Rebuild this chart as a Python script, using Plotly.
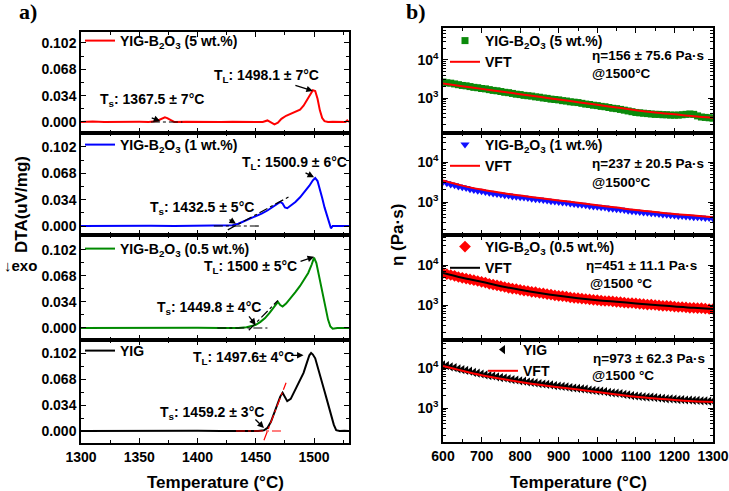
import plotly.graph_objects as go

# ---------------- DATA ----------------
# DTA curves (Temperature in °C, DTA in uV/mg)
T_5 = [1300, 1310, 1320, 1330, 1340, 1350, 1358, 1362, 1366, 1369, 1372, 1374, 1377, 1380, 1390, 1400, 1410,
       1420, 1430, 1440, 1450, 1456, 1460, 1463, 1466, 1469, 1472, 1476, 1480, 1484, 1488, 1491, 1494, 1497,
       1499, 1501, 1503, 1505, 1507, 1509, 1512, 1516, 1520, 1524, 1527, 1528.5, 1530]
D_5 = [0.000, 0.0005, 0.000, 0.0003, 0.000, 0.0002, 0.000, 0.0005, 0.002, 0.004, 0.006, 0.005, 0.002, 0.000,
       0.0003, 0.000, 0.0002, 0.000, 0.0003, 0.000, 0.0002, 0.000, 0.002, 0.000, -0.003, -0.001, 0.004, 0.008,
       0.011, 0.013, 0.016, 0.021, 0.028, 0.036, 0.041, 0.040, 0.030, 0.015, 0.005, 0.001, 0.000, 0.0002, 0.000,
       0.0003, 0.000, 0.002, 0.000]

T_1 = [1300, 1320, 1340, 1360, 1380, 1400, 1415, 1425, 1430, 1435, 1440, 1445, 1450, 1455, 1460, 1465, 1469,
       1471, 1473, 1475, 1477, 1480, 1484, 1488, 1492, 1496, 1499, 1501, 1503, 1505, 1507, 1509, 1511, 1513,
       1514.5, 1516, 1520, 1525, 1530]
D_1 = [0.000, 0.0003, 0.000, 0.0003, 0.000, 0.0002, 0.000, 0.000, 0.001, 0.003, 0.006, 0.009, 0.012, 0.016,
       0.020, 0.025, 0.029, 0.031, 0.029, 0.024, 0.023, 0.026, 0.031, 0.037, 0.044, 0.052, 0.059, 0.062, 0.058,
       0.048, 0.036, 0.024, 0.013, 0.003, -0.003, 0.000, 0.000, 0.0002, 0.000]

T_05 = [1300, 1320, 1340, 1360, 1380, 1400, 1420, 1435, 1442, 1446, 1450, 1454, 1458, 1462, 1465, 1467, 1469,
        1471, 1473, 1476, 1480, 1484, 1488, 1492, 1495, 1498, 1500, 1502, 1504, 1506, 1508, 1510, 1512, 1514,
        1516, 1520, 1525, 1530]
D_05 = [0.000, 0.0002, 0.000, 0.0003, 0.000, 0.0002, 0.000, 0.000, 0.001, 0.002, 0.004, 0.008, 0.013, 0.020,
        0.026, 0.031, 0.034, 0.030, 0.028, 0.032, 0.039, 0.047, 0.055, 0.064, 0.072, 0.083, 0.092, 0.085, 0.070,
        0.054, 0.040, 0.025, 0.011, 0.002, -0.001, 0.000, 0.0003, 0.000]

T_0 = [1300, 1320, 1340, 1360, 1380, 1400, 1420, 1440, 1452, 1457, 1460, 1463, 1466, 1469, 1471, 1473, 1475,
       1477, 1480, 1484, 1488, 1491, 1494, 1496, 1497.5, 1499, 1501, 1503, 1505, 1507, 1509, 1511, 1513, 1515,
       1517, 1519, 1522, 1526, 1530]
D_0 = [0.000, 0.0002, 0.000, 0.0003, 0.000, 0.0002, 0.000, 0.000, 0.000, 0.001, 0.004, 0.012, 0.024, 0.037,
       0.045, 0.050, 0.045, 0.039, 0.042, 0.054, 0.066, 0.076, 0.090, 0.099, 0.102, 0.100, 0.095, 0.085, 0.073,
       0.062, 0.052, 0.041, 0.030, 0.019, 0.008, 0.001, 0.000, 0.0002, 0.000]

# construction (tangent / baseline) lines
BASE_5_X, BASE_5_Y = [1360, 1387], [0.0, 0.0]
BASE_1_X, BASE_1_Y = [1414, 1454], [0.0, 0.0]
TAN_1_X, TAN_1_Y = [1426, 1480], [-0.005, 0.039]
BASE_05_X, BASE_05_Y = [1417, 1460], [0.0, 0.0]
TAN_05_X, TAN_05_Y = [1444, 1469], [-0.003, 0.036]
BASE_0_X, BASE_0_Y = [1433, 1474], [0.0, 0.0]
TAN_0_X, TAN_0_Y = [1457, 1476], [-0.012, 0.063]

# Viscosity (Temperature in °C, log10(eta / Pa·s))
T_VISC = list(range(600, 1301, 10))
LOG_ETA_5 = [3.42, 3.40, 3.39, 3.37, 3.35, 3.33, 3.32, 3.30, 3.28, 3.27, 3.25, 3.24, 3.22, 3.20, 3.19, 3.17,
             3.15, 3.14, 3.12, 3.10, 3.09, 3.07, 3.06, 3.05, 3.03, 3.02, 3.00, 2.99, 2.97, 2.96, 2.95, 2.93,
             2.92, 2.90, 2.89, 2.88, 2.86, 2.84, 2.83, 2.81, 2.80, 2.78, 2.77, 2.75, 2.73, 2.72, 2.70, 2.68,
             2.66, 2.64, 2.62, 2.61, 2.60, 2.59, 2.58, 2.57, 2.57, 2.56, 2.56, 2.55, 2.55, 2.55, 2.56, 2.57,
             2.58, 2.57, 2.53, 2.50, 2.49, 2.48, 2.47]
LOG_ETA_1 = [3.50, 3.47, 3.44, 3.42, 3.39, 3.37, 3.35, 3.32, 3.30, 3.28, 3.27, 3.25, 3.23, 3.21, 3.20, 3.19,
             3.17, 3.16, 3.14, 3.13, 3.12, 3.11, 3.10, 3.08, 3.07, 3.06, 3.05, 3.04, 3.02, 3.01, 3.00, 2.99,
             2.98, 2.96, 2.95, 2.94, 2.93, 2.92, 2.90, 2.89, 2.88, 2.87, 2.86, 2.84, 2.83, 2.82, 2.81, 2.80,
             2.78, 2.77, 2.76, 2.75, 2.74, 2.73, 2.72, 2.71, 2.70, 2.69, 2.68, 2.67, 2.66, 2.65, 2.65, 2.64,
             2.63, 2.62, 2.62, 2.61, 2.60, 2.60, 2.59]
LOG_ETA_05 = [3.80, 3.77, 3.75, 3.73, 3.70, 3.68, 3.66, 3.64, 3.62, 3.60, 3.58, 3.56, 3.53, 3.51, 3.49, 3.47,
              3.45, 3.43, 3.41, 3.40, 3.38, 3.36, 3.35, 3.33, 3.32, 3.30, 3.29, 3.27, 3.26, 3.24, 3.23, 3.22,
              3.21, 3.19, 3.18, 3.17, 3.16, 3.15, 3.14, 3.13, 3.12, 3.11, 3.10, 3.10, 3.09, 3.08, 3.07, 3.06,
              3.05, 3.05, 3.04, 3.03, 3.02, 3.01, 3.01, 3.00, 2.99, 2.98, 2.98, 2.97, 2.96, 2.95, 2.95, 2.94,
              2.93, 2.93, 2.92, 2.92, 2.91, 2.90, 2.90]
LOG_ETA_0 = [4.08, 4.06, 4.03, 4.01, 3.98, 3.96, 3.94, 3.92, 3.89, 3.87, 3.85, 3.83, 3.81, 3.80, 3.78, 3.76,
             3.75, 3.73, 3.71, 3.70, 3.68, 3.67, 3.65, 3.64, 3.63, 3.61, 3.60, 3.59, 3.58, 3.56, 3.55, 3.54,
             3.53, 3.51, 3.50, 3.49, 3.48, 3.47, 3.45, 3.44, 3.43, 3.42, 3.41, 3.39, 3.38, 3.37, 3.36, 3.34,
             3.33, 3.31, 3.30, 3.29, 3.28, 3.27, 3.27, 3.26, 3.25, 3.24, 3.23, 3.23, 3.22, 3.21, 3.21, 3.20,
             3.20, 3.19, 3.19, 3.18, 3.18, 3.17, 3.17]

# VFT fits
T_VFT = [600, 650, 700, 750, 800, 850, 900, 950, 1000, 1050, 1100, 1150, 1200, 1250, 1300]
LOG_VFT_5 = [3.38, 3.31, 3.24, 3.17, 3.10, 3.03, 2.96, 2.89, 2.82, 2.75, 2.68, 2.62, 2.57, 2.52, 2.48]
LOG_VFT_1 = [3.54, 3.41, 3.31, 3.23, 3.16, 3.10, 3.04, 2.98, 2.92, 2.86, 2.80, 2.75, 2.70, 2.66, 2.62]
LOG_VFT_05 = [3.80, 3.68, 3.58, 3.47, 3.38, 3.30, 3.23, 3.17, 3.12, 3.08, 3.04, 3.00, 2.96, 2.93, 2.90]
LOG_VFT_0 = [4.05, 3.93, 3.82, 3.73, 3.65, 3.58, 3.52, 3.46, 3.40, 3.34, 3.28, 3.24, 3.20, 3.17, 3.15]

DTA_TICKS = [0.0, 0.034, 0.068, 0.102]
DTA_TICKTEXT = ["0.000", "0.034", "0.068", "0.102"]

# ---------------- FIGURE ----------------
W, H = 729, 491
FONT = "Liberation Sans, Arial, sans-serif"


def px(x):
    return x / W


def py(y):
    return 1 - y / H


def eta(logs):
    return [10 ** v for v in logs]


fig = go.Figure()

left_names = ["YIG-B<sub>2</sub>O<sub>3</sub> (5 wt.%)", "YIG-B<sub>2</sub>O<sub>3</sub> (1 wt.%)",
              "YIG-B<sub>2</sub>O<sub>3</sub> (0.5 wt.%)", "YIG"]
left_data = [(T_5, D_5, "#ff0000"), (T_1, D_1, "#0000ff"), (T_05, D_05, "#008a00"), (T_0, D_0, "#000000")]
for i, (tx, dy, col) in enumerate(left_data):
    n = i + 1
    fig.add_trace(go.Scatter(x=tx, y=dy, mode="lines", line=dict(color=col, width=2),
                             name=left_names[i], xaxis=f"x{n}", yaxis=f"y{n}",
                             legend="legend" if n == 1 else f"legend{n}"))

constr = [
    (1, BASE_5_X, BASE_5_Y, "black"),
    (2, BASE_1_X, BASE_1_Y, "black"), (2, TAN_1_X, TAN_1_Y, "black"),
    (3, BASE_05_X, BASE_05_Y, "black"), (3, TAN_05_X, TAN_05_Y, "black"),
    (4, BASE_0_X, BASE_0_Y, "#ff0000"), (4, TAN_0_X, TAN_0_Y, "#ff0000"),
]
for n, cx, cy, col in constr:
    fig.add_trace(go.Scatter(x=cx, y=cy, mode="lines", line=dict(color=col, width=1.2, dash="dashdot"),
                             showlegend=False, xaxis=f"x{n}", yaxis=f"y{n}"))

right_sets = [
    (LOG_ETA_5, LOG_VFT_5, "square", 7, "#0b8a0b", "#ff0000", left_names[0]),
    (LOG_ETA_1, LOG_VFT_1, "triangle-down", 8, "#1010ff", "#ff0000", left_names[1]),
    (LOG_ETA_05, LOG_VFT_05, "diamond", 9, "#ff0000", "#000000", left_names[2]),
    (LOG_ETA_0, LOG_VFT_0, "triangle-left", 8, "#000000", "#ff0000", "YIG"),
]
for i, (le, lv, sym, sz, mcol, lcol, nm) in enumerate(right_sets):
    n = i + 5
    fig.add_trace(go.Scatter(x=T_VISC, y=eta(le), mode="markers",
                             marker=dict(symbol=sym, size=sz, color=mcol, line=dict(width=0)),
                             name=nm, xaxis=f"x{n}", yaxis=f"y{n}", legend=f"legend{n}"))
    fig.add_trace(go.Scatter(x=T_VFT, y=eta(lv), mode="lines", line=dict(color=lcol, width=2, shape="spline"),
                             name="VFT", xaxis=f"x{n}", yaxis=f"y{n}", legend=f"legend{n}"))

tickfont = dict(family=FONT, size=14, color="black", weight="bold")
common = dict(showline=True, linecolor="black", linewidth=1.5, mirror="allticks", ticks="inside",
              ticklen=5, tickwidth=1.3, tickcolor="black", showgrid=False, zeroline=False, tickfont=tickfont,
              automargin=False)

left_edges = [(32, 133), (133, 235), (235, 340), (340, 443)]
right_edges = [(28, 133), (133, 235), (235, 340), (340, 442)]
left_yr = [[-0.0142, 0.116], [-0.0116, 0.120], [-0.0157, 0.1216], [-0.0157, 0.119]]
right_yr = [[2.08, 4.84], [2.175, 4.725], [2.125, 4.75], [2.15, 4.70]]

layout = dict(width=W, height=H, margin=dict(l=0, r=0, t=0, b=0, pad=0, autoexpand=False),
              paper_bgcolor="white", plot_bgcolor="white", font=dict(family=FONT, color="black"))

minor_log = [m * 10 ** e for e in (2, 3, 4) for m in range(2, 10)]

for i in range(4):
    n = i + 1
    top, bot = left_edges[i]
    layout[f"xaxis{n}"] = dict(common, domain=[px(81), px(349)], anchor=f"y{n}", range=[1300, 1530],
                               tick0=1300, dtick=50, showticklabels=(n == 4),
                               minor=dict(ticks="inside", ticklen=3, tickwidth=1, tickcolor="black", dtick=25))
    layout[f"yaxis{n}"] = dict(common, domain=[py(bot), py(top)], anchor=f"x{n}", range=left_yr[i],
                               tickmode="array", tickvals=DTA_TICKS, ticktext=DTA_TICKTEXT,
                               minor=dict(ticks="inside", ticklen=3, tickwidth=1, tickcolor="black",
                                          tickmode="linear", tick0=0, dtick=0.017))
    n = i + 5
    top, bot = right_edges[i]
    layout[f"xaxis{n}"] = dict(common, domain=[px(443), px(713)], anchor=f"y{n}", range=[600, 1300],
                               tick0=600, dtick=100, showticklabels=(n == 8),
                               minor=dict(ticks="inside", ticklen=3, tickwidth=1, tickcolor="black", dtick=50))
    layout[f"yaxis{n}"] = dict(common, type="log", domain=[py(bot), py(top)], anchor=f"x{n}",
                               range=right_yr[i], tickmode="array", tickvals=[1000, 10000],
                               ticktext=["10<sup>3</sup>", "10<sup>4</sup>"],
                               minor=dict(ticks="inside", ticklen=3, tickwidth=1, tickcolor="black",
                                          tickmode="array", tickvals=minor_log))

legfont = dict(family=FONT, size=14, color="black", weight="bold")
leg_pos = {1: (80, 40), 2: (80, 144), 3: (80, 248), 4: (80, 350),
           5: (445, 40), 6: (445, 144), 7: (445, 246), 8: (483, 349)}
for n, (lx, ly) in leg_pos.items():
    key = "legend" if n == 1 else f"legend{n}"
    layout[key] = dict(x=px(lx), y=py(ly - 15), xanchor="left", yanchor="top", bgcolor="rgba(0,0,0,0)",
                       borderwidth=0, font=legfont, tracegroupgap=0, itemwidth=30)

fig.update_layout(**layout)

annots = []


def text(x, y, s, size=14, xanchor="center", angle=0, family=FONT):
    annots.append(dict(x=px(x), y=py(y), xref="paper", yref="paper", text=s, showarrow=False,
                       xanchor=xanchor, yanchor="middle", textangle=angle,
                       font=dict(family=family, size=size, color="black", weight="bold")))


def arrow(n, x, y, ax, ay):
    annots.append(dict(x=x, y=y, xref=f"x{n}", yref=f"y{n}", ax=ax, ay=ay, text="", showarrow=True,
                       arrowhead=2, arrowsize=1, arrowwidth=1.3, arrowcolor="black"))


# left panel texts
text(266, 76, "T<sub>L</sub>: 1498.1 ± 7°C")
text(152, 100, "T<sub>s</sub>: 1367.5 ± 7°C")
text(294, 163, "T<sub>L</sub>: 1500.9 ± 6°C")
text(202, 208, "T<sub>s</sub>: 1432.5 ± 5°C")
text(250, 267, "T<sub>L</sub>: 1500 ± 5°C")
text(209, 308, "T<sub>s</sub>: 1449.8 ± 4°C")
text(243, 358, "T<sub>L</sub>: 1497.6± 4°C")
text(212, 413, "T<sub>s</sub>: 1459.2 ± 3°C")

arrow(1, 1499, 0.040, -19, -6)
arrow(1, 1368, 0.001, -10, -4)
arrow(2, 1500, 0.063, -10, -5)
arrow(2, 1433, 0.003, -8, -5)
arrow(3, 1500, 0.093, -15, 5)
arrow(3, 1450, 0.004, -8, -10)
arrow(4, 1491, 0.099, -14, 0)
arrow(4, 1457, 0.004, -10, -10)

# right panel texts
ES = 13.5
text(590, 55, "η=156 ± 75.6 Pa·s", size=ES, xanchor="left")
text(590, 74, "@1500°C", size=ES, xanchor="left")
text(590, 163, "η=237 ± 20.5 Pa·s", size=ES, xanchor="left")
text(590, 182, "@1500°C", size=ES, xanchor="left")
text(584, 265, "η=451 ± 11.1 Pa·s", size=ES, xanchor="left")
text(588, 283, "@1500 °C", size=ES, xanchor="left")
text(591, 358, "η=973 ± 62.3 Pa·s", size=ES, xanchor="left")
text(590, 375, "@1500 °C", size=ES, xanchor="left")

# axis titles and panel labels
text(215, 482, "Temperature (°C)", size=17)
text(578, 482, "Temperature (°C)", size=17)
text(21, 205, "DTA(uV/mg)", size=17, angle=-90)
text(20, 265, "↓exo", size=15)
text(398, 235, "η (Pa·s)", size=17, angle=-90)
text(28, 12, "a)", size=22, family="Liberation Serif, Times New Roman, serif")
text(416, 12, "b)", size=22, family="Liberation Serif, Times New Roman, serif")

fig.update_layout(annotations=annots)
fig.write_html("out.html")
